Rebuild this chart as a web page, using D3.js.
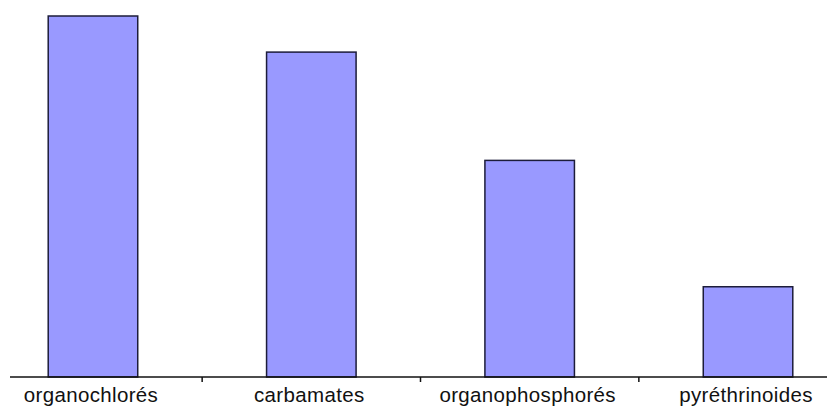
<!DOCTYPE html>
<html>
<head>
<meta charset="utf-8">
<script src="https://cdn.jsdelivr.net/npm/d3@7"></script>
<style>
  html, body { margin: 0; padding: 0; background: #fff; }
  svg { display: block; }
</style>
</head>
<body>
<svg id="chart" width="827" height="406"></svg>
<script>
// Pesticide families and their values
const categories = ["organochlorés", "carbamates", "organophosphorés", "pyréthrinoides"];
const values = [40, 36, 24, 10];

const W = 827, H = 406;
const baseY = 377;

const svg = d3.select("#chart");

const x = d3.scaleBand()
  .domain(categories)
  .range([-16.2, 857.2])
  .paddingInner(0.59)
  .paddingOuter(0.295);

const y = d3.scaleLinear()
  .domain([0, 40])
  .range([baseY, 16]);

// Bars
svg.append("g")
  .selectAll("rect")
  .data(categories)
  .join("rect")
  .attr("x", d => x(d))
  .attr("y", (d, i) => y(values[i]))
  .attr("width", x.bandwidth())
  .attr("height", (d, i) => baseY - y(values[i]))
  .attr("fill", "#9999ff")
  .attr("stroke", "#1c1c3a")
  .attr("stroke-width", 1.5);

// Category axis: baseline, boundary ticks and labels
const step = x.step();
const boundaries = categories.slice(1).map(c => x(c) - (step - x.bandwidth()) / 2);

const axis = svg.append("g");
axis.append("line")
  .attr("x1", 10).attr("x2", W)
  .attr("y1", baseY).attr("y2", baseY)
  .attr("stroke", "#111").attr("stroke-width", 1.5);

axis.selectAll("line.tick")
  .data(boundaries)
  .join("line")
  .attr("class", "tick")
  .attr("x1", d => d).attr("x2", d => d)
  .attr("y1", baseY).attr("y2", baseY + 5)
  .attr("stroke", "#111").attr("stroke-width", 1.5);

axis.selectAll("text")
  .data(categories)
  .join("text")
  .attr("x", d => x(d) + x.bandwidth() / 2 - 2)
  .attr("y", 402)
  .attr("text-anchor", "middle")
  .attr("font-family", "'Liberation Sans', Arial, sans-serif")
  .attr("font-size", 20.5)
  .attr("letter-spacing", 0.35)
  .attr("fill", "#111")
  .text(d => d);
</script>
</body>
</html>
